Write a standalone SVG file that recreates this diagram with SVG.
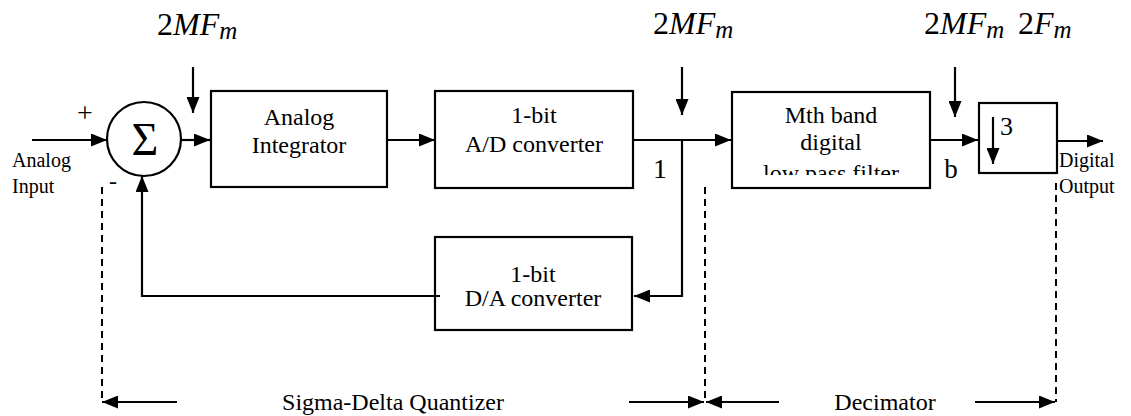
<svg xmlns="http://www.w3.org/2000/svg" width="1131" height="416" viewBox="0 0 1131 416">
<style>
.box{fill:#fff;stroke:#000;stroke-width:2.2}
.ln{fill:none;stroke:#000;stroke-width:2.2}
.dash{fill:none;stroke:#000;stroke-width:2;stroke-dasharray:7,5}
.t{font-family:"Liberation Serif","Times New Roman",serif;font-size:24px;fill:#000;text-anchor:middle}
.s{font-family:"Liberation Serif","Times New Roman",serif;font-size:20px;fill:#000}
.f{font-family:"Liberation Serif","Times New Roman",serif;font-size:32px;fill:#000}
.i{font-style:italic}
.sub{font-style:italic;font-size:25px}
</style>
<defs>
<marker id="ah" viewBox="0 0 16 13" refX="16" refY="6.5" markerWidth="16" markerHeight="13" markerUnits="userSpaceOnUse" orient="auto">
<path d="M0,0 L16,6.5 L0,13 z" fill="#000"/>
</marker>
<clipPath id="clipLow"><rect x="732" y="92" width="198" height="83"/></clipPath>
</defs>

<g id="labels">
<text class="f" x="157" y="35">2<tspan class="i">MF</tspan><tspan class="sub" dy="4">m</tspan></text>
<text class="f" x="653" y="34">2<tspan class="i">MF</tspan><tspan class="sub" dy="4">m</tspan></text>
<text class="f" x="924" y="34">2<tspan class="i">MF</tspan><tspan class="sub" dy="4">m</tspan></text>
<text class="f" x="1018" y="34">2<tspan class="i">F</tspan><tspan class="sub" dy="4">m</tspan></text>
<text class="s" x="12" y="167">Analog</text>
<text class="s" x="12" y="193">Input</text>
<text class="s" x="1059" y="167">Digital</text>
<text class="s" x="1059" y="193">Output</text>
<text class="t" x="85" y="122" style="font-size:28px">+</text>
<text class="t" x="113" y="189">-</text>
<text class="t" x="660" y="178" style="font-size:28px">1</text>
<text class="t" x="951" y="178" style="font-size:27px">b</text>
<text class="t" x="393" y="410">Sigma-Delta Quantizer</text>
<text class="t" x="885" y="410">Decimator</text>
</g>

<g id="sum">
<circle cx="144" cy="139" r="37" class="box"/>
<text class="t" x="145" y="155" style="font-size:46px">Σ</text>
</g>

<g id="integrator">
<rect x="211" y="91" width="176" height="96" class="box"/>
<text class="t" x="299" y="125">Analog</text>
<text class="t" x="299" y="153">Integrator</text>
</g>

<g id="adc">
<rect x="435" y="91" width="198" height="97" class="box"/>
<text class="t" x="534" y="123">1-bit</text>
<text class="t" x="534" y="152">A/D converter</text>
</g>

<g id="dac">
<rect x="435" y="237" width="197" height="93" class="box"/>
<text class="t" x="533" y="282">1-bit</text>
<text class="t" x="533" y="306">D/A converter</text>
</g>

<g id="filter">
<rect x="732" y="92" width="198" height="96" class="box"/>
<text class="t" x="831" y="123">Mth band</text>
<text class="t" x="831" y="150">digital</text>
<text class="t" x="831" y="181" clip-path="url(#clipLow)">low pass filter</text>
</g>

<g id="downsampler">
<rect x="979" y="103" width="78" height="70" class="box"/>
<line x1="993" y1="117" x2="993" y2="164" class="ln" marker-end="url(#ah)"/>
<text class="s" x="1000" y="135" style="font-size:26px">3</text>
</g>

<g id="connectors">
<line x1="32" y1="140" x2="107" y2="140" class="ln" marker-end="url(#ah)"/>
<line x1="182" y1="140" x2="210" y2="140" class="ln" marker-end="url(#ah)"/>
<line x1="387" y1="140" x2="435" y2="140" class="ln" marker-end="url(#ah)"/>
<line x1="633" y1="140" x2="731" y2="140" class="ln" marker-end="url(#ah)"/>
<polyline points="682,140 682,296 634,296" class="ln" marker-end="url(#ah)"/>
<polyline points="440,296 142,296 142,176" class="ln" marker-end="url(#ah)"/>
<line x1="930" y1="140" x2="978" y2="140" class="ln" marker-end="url(#ah)"/>
<line x1="1057" y1="141" x2="1103" y2="141" class="ln" marker-end="url(#ah)"/>
<line x1="193" y1="67" x2="193" y2="113" class="ln" marker-end="url(#ah)"/>
<line x1="682" y1="67" x2="682" y2="115" class="ln" marker-end="url(#ah)"/>
<line x1="955" y1="67" x2="955" y2="117" class="ln" marker-end="url(#ah)"/>
<line x1="102" y1="187" x2="102" y2="402" class="dash"/>
<line x1="705" y1="187" x2="705" y2="402" class="dash"/>
<line x1="1056" y1="183" x2="1056" y2="402" class="dash"/>
<line x1="177" y1="402" x2="102" y2="402" class="ln" marker-end="url(#ah)"/>
<line x1="629" y1="402" x2="704" y2="402" class="ln" marker-end="url(#ah)"/>
<line x1="779" y1="402" x2="706" y2="402" class="ln" marker-end="url(#ah)"/>
<line x1="975" y1="402" x2="1055" y2="402" class="ln" marker-end="url(#ah)"/>
</g>
</svg>
